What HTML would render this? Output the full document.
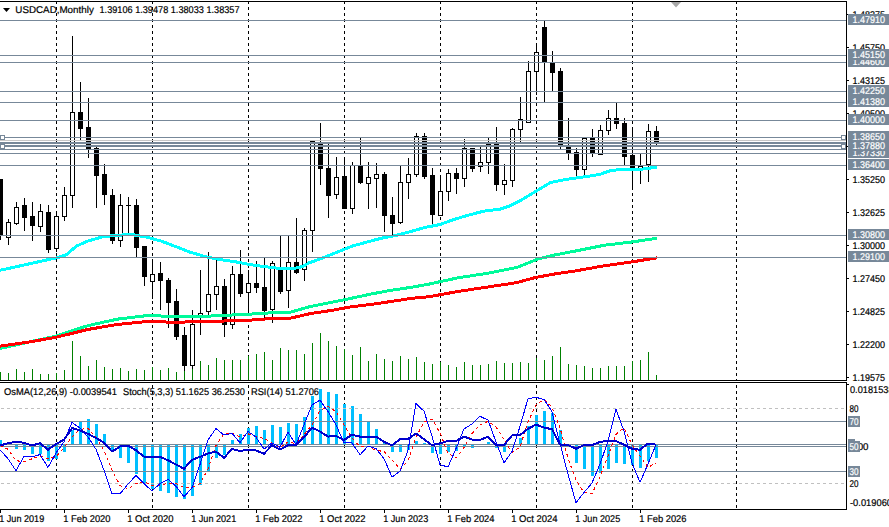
<!DOCTYPE html>
<html><head><meta charset="utf-8">
<style>
html,body{margin:0;padding:0;background:#fff;width:889px;height:527px;overflow:hidden}
svg{position:absolute;left:0;top:0;display:block}
.t{font-family:'Liberation Sans',sans-serif;font-size:9.8px;fill:#000;stroke:#000;stroke-width:0.2px;text-rendering:geometricPrecision}
.w{fill:#fff;stroke:#fff}
</style></head><body>
<svg width="889" height="527" viewBox="0 0 889 527">
<rect width="889" height="527" fill="#fff"/>
<g shape-rendering="crispEdges">
<path d="M56.5 2V4M56.5 7V10M56.5 13V16M56.5 19V22M56.5 25V28M56.5 31V34M56.5 37V40M56.5 43V46M56.5 49V52M56.5 55V58M56.5 61V64M56.5 67V70M56.5 73V76M56.5 79V82M56.5 85V88M56.5 91V94M56.5 97V100M56.5 103V106M56.5 109V112M56.5 115V118M56.5 121V124M56.5 127V130M56.5 133V136M56.5 139V142M56.5 145V148M56.5 151V154M56.5 157V160M56.5 163V166M56.5 169V172M56.5 175V178M56.5 181V184M56.5 187V190M56.5 193V196M56.5 199V202M56.5 205V208M56.5 211V214M56.5 217V220M56.5 223V226M56.5 229V232M56.5 235V238M56.5 241V244M56.5 247V250M56.5 253V256M56.5 259V262M56.5 265V268M56.5 271V274M56.5 277V280M56.5 283V286M56.5 289V292M56.5 295V298M56.5 301V304M56.5 307V310M56.5 313V316M56.5 319V322M56.5 325V328M56.5 331V334M56.5 337V340M56.5 343V346M56.5 349V352M56.5 355V358M56.5 361V364M56.5 367V370M56.5 373V376M56.5 379V380M152.5 2V4M152.5 7V10M152.5 13V16M152.5 19V22M152.5 25V28M152.5 31V34M152.5 37V40M152.5 43V46M152.5 49V52M152.5 55V58M152.5 61V64M152.5 67V70M152.5 73V76M152.5 79V82M152.5 85V88M152.5 91V94M152.5 97V100M152.5 103V106M152.5 109V112M152.5 115V118M152.5 121V124M152.5 127V130M152.5 133V136M152.5 139V142M152.5 145V148M152.5 151V154M152.5 157V160M152.5 163V166M152.5 169V172M152.5 175V178M152.5 181V184M152.5 187V190M152.5 193V196M152.5 199V202M152.5 205V208M152.5 211V214M152.5 217V220M152.5 223V226M152.5 229V232M152.5 235V238M152.5 241V244M152.5 247V250M152.5 253V256M152.5 259V262M152.5 265V268M152.5 271V274M152.5 277V280M152.5 283V286M152.5 289V292M152.5 295V298M152.5 301V304M152.5 307V310M152.5 313V316M152.5 319V322M152.5 325V328M152.5 331V334M152.5 337V340M152.5 343V346M152.5 349V352M152.5 355V358M152.5 361V364M152.5 367V370M152.5 373V376M152.5 379V380M248.5 2V4M248.5 7V10M248.5 13V16M248.5 19V22M248.5 25V28M248.5 31V34M248.5 37V40M248.5 43V46M248.5 49V52M248.5 55V58M248.5 61V64M248.5 67V70M248.5 73V76M248.5 79V82M248.5 85V88M248.5 91V94M248.5 97V100M248.5 103V106M248.5 109V112M248.5 115V118M248.5 121V124M248.5 127V130M248.5 133V136M248.5 139V142M248.5 145V148M248.5 151V154M248.5 157V160M248.5 163V166M248.5 169V172M248.5 175V178M248.5 181V184M248.5 187V190M248.5 193V196M248.5 199V202M248.5 205V208M248.5 211V214M248.5 217V220M248.5 223V226M248.5 229V232M248.5 235V238M248.5 241V244M248.5 247V250M248.5 253V256M248.5 259V262M248.5 265V268M248.5 271V274M248.5 277V280M248.5 283V286M248.5 289V292M248.5 295V298M248.5 301V304M248.5 307V310M248.5 313V316M248.5 319V322M248.5 325V328M248.5 331V334M248.5 337V340M248.5 343V346M248.5 349V352M248.5 355V358M248.5 361V364M248.5 367V370M248.5 373V376M248.5 379V380M344.5 2V4M344.5 7V10M344.5 13V16M344.5 19V22M344.5 25V28M344.5 31V34M344.5 37V40M344.5 43V46M344.5 49V52M344.5 55V58M344.5 61V64M344.5 67V70M344.5 73V76M344.5 79V82M344.5 85V88M344.5 91V94M344.5 97V100M344.5 103V106M344.5 109V112M344.5 115V118M344.5 121V124M344.5 127V130M344.5 133V136M344.5 139V142M344.5 145V148M344.5 151V154M344.5 157V160M344.5 163V166M344.5 169V172M344.5 175V178M344.5 181V184M344.5 187V190M344.5 193V196M344.5 199V202M344.5 205V208M344.5 211V214M344.5 217V220M344.5 223V226M344.5 229V232M344.5 235V238M344.5 241V244M344.5 247V250M344.5 253V256M344.5 259V262M344.5 265V268M344.5 271V274M344.5 277V280M344.5 283V286M344.5 289V292M344.5 295V298M344.5 301V304M344.5 307V310M344.5 313V316M344.5 319V322M344.5 325V328M344.5 331V334M344.5 337V340M344.5 343V346M344.5 349V352M344.5 355V358M344.5 361V364M344.5 367V370M344.5 373V376M344.5 379V380M440.5 2V4M440.5 7V10M440.5 13V16M440.5 19V22M440.5 25V28M440.5 31V34M440.5 37V40M440.5 43V46M440.5 49V52M440.5 55V58M440.5 61V64M440.5 67V70M440.5 73V76M440.5 79V82M440.5 85V88M440.5 91V94M440.5 97V100M440.5 103V106M440.5 109V112M440.5 115V118M440.5 121V124M440.5 127V130M440.5 133V136M440.5 139V142M440.5 145V148M440.5 151V154M440.5 157V160M440.5 163V166M440.5 169V172M440.5 175V178M440.5 181V184M440.5 187V190M440.5 193V196M440.5 199V202M440.5 205V208M440.5 211V214M440.5 217V220M440.5 223V226M440.5 229V232M440.5 235V238M440.5 241V244M440.5 247V250M440.5 253V256M440.5 259V262M440.5 265V268M440.5 271V274M440.5 277V280M440.5 283V286M440.5 289V292M440.5 295V298M440.5 301V304M440.5 307V310M440.5 313V316M440.5 319V322M440.5 325V328M440.5 331V334M440.5 337V340M440.5 343V346M440.5 349V352M440.5 355V358M440.5 361V364M440.5 367V370M440.5 373V376M440.5 379V380M536.5 2V4M536.5 7V10M536.5 13V16M536.5 19V22M536.5 25V28M536.5 31V34M536.5 37V40M536.5 43V46M536.5 49V52M536.5 55V58M536.5 61V64M536.5 67V70M536.5 73V76M536.5 79V82M536.5 85V88M536.5 91V94M536.5 97V100M536.5 103V106M536.5 109V112M536.5 115V118M536.5 121V124M536.5 127V130M536.5 133V136M536.5 139V142M536.5 145V148M536.5 151V154M536.5 157V160M536.5 163V166M536.5 169V172M536.5 175V178M536.5 181V184M536.5 187V190M536.5 193V196M536.5 199V202M536.5 205V208M536.5 211V214M536.5 217V220M536.5 223V226M536.5 229V232M536.5 235V238M536.5 241V244M536.5 247V250M536.5 253V256M536.5 259V262M536.5 265V268M536.5 271V274M536.5 277V280M536.5 283V286M536.5 289V292M536.5 295V298M536.5 301V304M536.5 307V310M536.5 313V316M536.5 319V322M536.5 325V328M536.5 331V334M536.5 337V340M536.5 343V346M536.5 349V352M536.5 355V358M536.5 361V364M536.5 367V370M536.5 373V376M536.5 379V380M632.5 2V4M632.5 7V10M632.5 13V16M632.5 19V22M632.5 25V28M632.5 31V34M632.5 37V40M632.5 43V46M632.5 49V52M632.5 55V58M632.5 61V64M632.5 67V70M632.5 73V76M632.5 79V82M632.5 85V88M632.5 91V94M632.5 97V100M632.5 103V106M632.5 109V112M632.5 115V118M632.5 121V124M632.5 127V130M632.5 133V136M632.5 139V142M632.5 145V148M632.5 151V154M632.5 157V160M632.5 163V166M632.5 169V172M632.5 175V178M632.5 181V184M632.5 187V190M632.5 193V196M632.5 199V202M632.5 205V208M632.5 211V214M632.5 217V220M632.5 223V226M632.5 229V232M632.5 235V238M632.5 241V244M632.5 247V250M632.5 253V256M632.5 259V262M632.5 265V268M632.5 271V274M632.5 277V280M632.5 283V286M632.5 289V292M632.5 295V298M632.5 301V304M632.5 307V310M632.5 313V316M632.5 319V322M632.5 325V328M632.5 331V334M632.5 337V340M632.5 343V346M632.5 349V352M632.5 355V358M632.5 361V364M632.5 367V370M632.5 373V376M632.5 379V380M736.5 2V4M736.5 7V10M736.5 13V16M736.5 19V22M736.5 25V28M736.5 31V34M736.5 37V40M736.5 43V46M736.5 49V52M736.5 55V58M736.5 61V64M736.5 67V70M736.5 73V76M736.5 79V82M736.5 85V88M736.5 91V94M736.5 97V100M736.5 103V106M736.5 109V112M736.5 115V118M736.5 121V124M736.5 127V130M736.5 133V136M736.5 139V142M736.5 145V148M736.5 151V154M736.5 157V160M736.5 163V166M736.5 169V172M736.5 175V178M736.5 181V184M736.5 187V190M736.5 193V196M736.5 199V202M736.5 205V208M736.5 211V214M736.5 217V220M736.5 223V226M736.5 229V232M736.5 235V238M736.5 241V244M736.5 247V250M736.5 253V256M736.5 259V262M736.5 265V268M736.5 271V274M736.5 277V280M736.5 283V286M736.5 289V292M736.5 295V298M736.5 301V304M736.5 307V310M736.5 313V316M736.5 319V322M736.5 325V328M736.5 331V334M736.5 337V340M736.5 343V346M736.5 349V352M736.5 355V358M736.5 361V364M736.5 367V370M736.5 373V376M736.5 379V380M56.5 385V388M56.5 391V394M56.5 397V400M56.5 403V406M56.5 409V412M56.5 415V418M56.5 421V424M56.5 427V430M56.5 433V436M56.5 439V442M56.5 445V448M56.5 451V454M56.5 457V460M56.5 463V466M56.5 469V472M56.5 475V478M56.5 481V484M56.5 487V490M56.5 493V496M56.5 499V502M56.5 505V508M152.5 385V388M152.5 391V394M152.5 397V400M152.5 403V406M152.5 409V412M152.5 415V418M152.5 421V424M152.5 427V430M152.5 433V436M152.5 439V442M152.5 445V448M152.5 451V454M152.5 457V460M152.5 463V466M152.5 469V472M152.5 475V478M152.5 481V484M152.5 487V490M152.5 493V496M152.5 499V502M152.5 505V508M248.5 385V388M248.5 391V394M248.5 397V400M248.5 403V406M248.5 409V412M248.5 415V418M248.5 421V424M248.5 427V430M248.5 433V436M248.5 439V442M248.5 445V448M248.5 451V454M248.5 457V460M248.5 463V466M248.5 469V472M248.5 475V478M248.5 481V484M248.5 487V490M248.5 493V496M248.5 499V502M248.5 505V508M344.5 385V388M344.5 391V394M344.5 397V400M344.5 403V406M344.5 409V412M344.5 415V418M344.5 421V424M344.5 427V430M344.5 433V436M344.5 439V442M344.5 445V448M344.5 451V454M344.5 457V460M344.5 463V466M344.5 469V472M344.5 475V478M344.5 481V484M344.5 487V490M344.5 493V496M344.5 499V502M344.5 505V508M440.5 385V388M440.5 391V394M440.5 397V400M440.5 403V406M440.5 409V412M440.5 415V418M440.5 421V424M440.5 427V430M440.5 433V436M440.5 439V442M440.5 445V448M440.5 451V454M440.5 457V460M440.5 463V466M440.5 469V472M440.5 475V478M440.5 481V484M440.5 487V490M440.5 493V496M440.5 499V502M440.5 505V508M536.5 385V388M536.5 391V394M536.5 397V400M536.5 403V406M536.5 409V412M536.5 415V418M536.5 421V424M536.5 427V430M536.5 433V436M536.5 439V442M536.5 445V448M536.5 451V454M536.5 457V460M536.5 463V466M536.5 469V472M536.5 475V478M536.5 481V484M536.5 487V490M536.5 493V496M536.5 499V502M536.5 505V508M632.5 385V388M632.5 391V394M632.5 397V400M632.5 403V406M632.5 409V412M632.5 415V418M632.5 421V424M632.5 427V430M632.5 433V436M632.5 439V442M632.5 445V448M632.5 451V454M632.5 457V460M632.5 463V466M632.5 469V472M632.5 475V478M632.5 481V484M632.5 487V490M632.5 493V496M632.5 499V502M632.5 505V508M736.5 385V388M736.5 391V394M736.5 397V400M736.5 403V406M736.5 409V412M736.5 415V418M736.5 421V424M736.5 427V430M736.5 433V436M736.5 439V442M736.5 445V448M736.5 451V454M736.5 457V460M736.5 463V466M736.5 469V472M736.5 475V478M736.5 481V484M736.5 487V490M736.5 493V496M736.5 499V502M736.5 505V508" stroke="#000" stroke-width="1" fill="none"/>
</g>
<g shape-rendering="crispEdges">
<path d="M0.5 179V240M8.5 219V245M16.5 202V225M24.5 198V231M32.5 202V241M40.5 204V232M48.5 205V253M56.5 212V252M64.5 187V221M72.5 36V208M80.5 82V141M88.5 98V158M96.5 147V208M104.5 164V205M112.5 189V244M120.5 194V247M128.5 197V235M136.5 199V257M144.5 246V286M152.5 259V299M160.5 262V310M168.5 278V328M176.5 289V340M184.5 327V371M192.5 310V371M200.5 270V335M208.5 252V315M216.5 260V310M224.5 279V337M232.5 266V329M240.5 250V297M248.5 270V314M256.5 261V293M264.5 258V319M272.5 261V323M280.5 236V294M288.5 236V308M296.5 218V274M304.5 228V281M312.5 141V252M320.5 123V185M328.5 143V218M336.5 157V199M344.5 157V209M352.5 162V214M360.5 138V184M368.5 162V209M376.5 163V208M384.5 172V232M392.5 197V236M400.5 166V224M408.5 158V199M416.5 133V177M424.5 133V179M432.5 168V224M440.5 175V216M448.5 169V201M456.5 168V194M464.5 139V187M472.5 148V172M480.5 147V172M488.5 138V174M496.5 127V191M504.5 164V195M512.5 128V187M520.5 97V143M528.5 61V123M536.5 43V95M544.5 21V103M552.5 51V92M560.5 68V150M568.5 118V160M576.5 148V179M584.5 138V177M592.5 129V157M600.5 125V155M608.5 110V135M616.5 103V129M624.5 118V166M632.5 128V187M640.5 154V184M648.5 124V182M656.5 126V146" stroke="#000" stroke-width="1" fill="none"/>
<rect x="-2" y="179" width="5" height="57" fill="#000"/><rect x="6.5" y="222.5" width="4" height="15" fill="#fff" stroke="#000" stroke-width="1"/><rect x="14.5" y="207.5" width="4" height="16" fill="#fff" stroke="#000" stroke-width="1"/><rect x="22" y="205" width="5" height="13" fill="#000"/><rect x="30" y="216" width="5" height="10" fill="#000"/><rect x="38.5" y="211.5" width="4" height="15" fill="#fff" stroke="#000" stroke-width="1"/><rect x="46" y="212" width="5" height="38" fill="#000"/><rect x="54.5" y="216.5" width="4" height="32" fill="#fff" stroke="#000" stroke-width="1"/><rect x="62.5" y="195.5" width="4" height="21" fill="#fff" stroke="#000" stroke-width="1"/><rect x="70.5" y="112.5" width="4" height="83" fill="#fff" stroke="#000" stroke-width="1"/><rect x="78" y="112" width="5" height="17" fill="#000"/><rect x="86" y="127" width="5" height="23" fill="#000"/><rect x="94" y="148" width="5" height="28" fill="#000"/><rect x="102" y="174" width="5" height="21" fill="#000"/><rect x="110" y="195" width="5" height="46" fill="#000"/><rect x="118.5" y="205.5" width="4" height="35" fill="#fff" stroke="#000" stroke-width="1"/><rect x="126" y="205" width="5" height="1" fill="#000"/><rect x="134" y="205" width="5" height="43" fill="#000"/><rect x="142" y="246" width="5" height="31" fill="#000"/><rect x="150.5" y="274.5" width="4" height="7" fill="#fff" stroke="#000" stroke-width="1"/><rect x="158" y="273" width="5" height="8" fill="#000"/><rect x="166" y="280" width="5" height="23" fill="#000"/><rect x="174" y="301" width="5" height="36" fill="#000"/><rect x="182" y="335" width="5" height="31" fill="#000"/><rect x="190.5" y="324.5" width="4" height="41" fill="#fff" stroke="#000" stroke-width="1"/><rect x="198.5" y="313.5" width="4" height="2" fill="#fff" stroke="#000" stroke-width="1"/><rect x="206.5" y="294.5" width="4" height="17" fill="#fff" stroke="#000" stroke-width="1"/><rect x="214.5" y="286.5" width="4" height="8" fill="#fff" stroke="#000" stroke-width="1"/><rect x="222" y="286" width="5" height="39" fill="#000"/><rect x="230.5" y="274.5" width="4" height="50" fill="#fff" stroke="#000" stroke-width="1"/><rect x="238" y="274" width="5" height="20" fill="#000"/><rect x="246.5" y="283.5" width="4" height="9" fill="#fff" stroke="#000" stroke-width="1"/><rect x="254" y="283" width="5" height="5" fill="#000"/><rect x="262" y="287" width="5" height="24" fill="#000"/><rect x="270.5" y="263.5" width="4" height="46" fill="#fff" stroke="#000" stroke-width="1"/><rect x="278" y="268" width="5" height="24" fill="#000"/><rect x="286.5" y="262.5" width="4" height="28" fill="#fff" stroke="#000" stroke-width="1"/><rect x="294" y="262" width="5" height="11" fill="#000"/><rect x="302.5" y="230.5" width="4" height="39" fill="#fff" stroke="#000" stroke-width="1"/><rect x="310.5" y="141.5" width="4" height="89" fill="#fff" stroke="#000" stroke-width="1"/><rect x="318" y="143" width="5" height="26" fill="#000"/><rect x="326" y="168" width="5" height="28" fill="#000"/><rect x="334.5" y="177.5" width="4" height="17" fill="#fff" stroke="#000" stroke-width="1"/><rect x="342" y="176" width="5" height="33" fill="#000"/><rect x="350.5" y="165.5" width="4" height="43" fill="#fff" stroke="#000" stroke-width="1"/><rect x="358" y="166" width="5" height="17" fill="#000"/><rect x="366.5" y="177.5" width="4" height="6" fill="#fff" stroke="#000" stroke-width="1"/><rect x="374.5" y="174.5" width="4" height="4" fill="#fff" stroke="#000" stroke-width="1"/><rect x="382" y="174" width="5" height="42" fill="#000"/><rect x="390" y="215" width="5" height="9" fill="#000"/><rect x="398.5" y="182.5" width="4" height="40" fill="#fff" stroke="#000" stroke-width="1"/><rect x="406.5" y="174.5" width="4" height="8" fill="#fff" stroke="#000" stroke-width="1"/><rect x="414.5" y="136.5" width="4" height="38" fill="#fff" stroke="#000" stroke-width="1"/><rect x="422" y="136" width="5" height="41" fill="#000"/><rect x="430" y="175" width="5" height="40" fill="#000"/><rect x="438.5" y="191.5" width="4" height="24" fill="#fff" stroke="#000" stroke-width="1"/><rect x="446.5" y="173.5" width="4" height="18" fill="#fff" stroke="#000" stroke-width="1"/><rect x="454" y="173" width="5" height="6" fill="#000"/><rect x="462.5" y="148.5" width="4" height="30" fill="#fff" stroke="#000" stroke-width="1"/><rect x="470" y="148" width="5" height="21" fill="#000"/><rect x="478.5" y="162.5" width="4" height="4" fill="#fff" stroke="#000" stroke-width="1"/><rect x="486.5" y="144.5" width="4" height="18" fill="#fff" stroke="#000" stroke-width="1"/><rect x="494" y="144" width="5" height="41" fill="#000"/><rect x="502.5" y="180.5" width="4" height="4" fill="#fff" stroke="#000" stroke-width="1"/><rect x="510.5" y="129.5" width="4" height="51" fill="#fff" stroke="#000" stroke-width="1"/><rect x="518.5" y="119.5" width="4" height="10" fill="#fff" stroke="#000" stroke-width="1"/><rect x="526.5" y="71.5" width="4" height="51" fill="#fff" stroke="#000" stroke-width="1"/><rect x="534.5" y="52.5" width="4" height="19" fill="#fff" stroke="#000" stroke-width="1"/><rect x="542" y="27" width="5" height="36" fill="#000"/><rect x="550" y="63" width="5" height="10" fill="#000"/><rect x="558" y="71" width="5" height="74" fill="#000"/><rect x="566" y="147" width="5" height="7" fill="#000"/><rect x="574" y="152" width="5" height="18" fill="#000"/><rect x="582.5" y="138.5" width="4" height="31" fill="#fff" stroke="#000" stroke-width="1"/><rect x="590" y="138" width="5" height="16" fill="#000"/><rect x="598.5" y="130.5" width="4" height="24" fill="#fff" stroke="#000" stroke-width="1"/><rect x="606.5" y="118.5" width="4" height="12" fill="#fff" stroke="#000" stroke-width="1"/><rect x="614" y="118" width="5" height="6" fill="#000"/><rect x="622" y="123" width="5" height="34" fill="#000"/><rect x="630" y="155" width="5" height="14" fill="#000"/><rect x="638.5" y="166.5" width="4" height="3" fill="#fff" stroke="#000" stroke-width="1"/><rect x="646.5" y="131.5" width="4" height="33" fill="#fff" stroke="#000" stroke-width="1"/><rect x="654" y="131" width="5" height="11" fill="#000"/>
</g>
<polyline points="0,270.3 29,263.9 58.5,257.4 67,254.5 76,246.3 88,241 102,237 117,235.2 132,234.6 146,237 161,241 175,246.3 190,252.2 205,256.5 219,259.5 234,261.5 250,264.6 264.6,266.6 279.2,268.4 293.9,268.4 302.6,266.6 308.5,263.1 323.1,257.8 337.7,252 352.3,246.1 367,242 381.6,238.2 396.2,235.3 410.8,231.5 425.4,227.4 440,224.5 454.7,219.2 469.3,214.9 484,211.1 500.1,209.1 510.2,205.7 520.4,200.6 530.5,194.5 540.6,188.5 550.7,182.4 560.9,180.4 571,178.7 581.1,177.3 591.2,175.9 601.3,173.9 611.5,170.2 621.6,169.8 631.7,169.8 641.8,169.2 652,167.8 657,167.2" fill="none" stroke="#00ffff" stroke-width="3" stroke-linejoin="round" shape-rendering="crispEdges"/>
<polyline points="0,348.5 29,342 55.6,336.2 87.7,325.7 117,319.2 146,315.7 175.4,316.3 204.7,316.3 234,314.9 250,314.1 270.2,312.9 290.5,312.1 310.7,306.4 331,302.4 351.2,298.3 371.5,293.9 391.7,290.2 412,287.2 429,284.1 458.5,277.7 487.7,273.3 517,267.4 537.4,259.2 555,254.9 575.4,251 604.7,245.2 634,241.7 657,238.2" fill="none" stroke="#00fa9a" stroke-width="3" stroke-linejoin="round" shape-rendering="crispEdges"/>
<polyline points="0,346.1 29,342 55.6,337.4 87.7,329.5 117,324.5 146,321.6 175.4,322.2 204.7,321.6 234,320.7 250,320.2 270.2,318.6 290.5,318.2 310.7,313.5 331,310.5 351.2,306.8 371.5,304.4 391.7,301.4 412,298.3 429,296.7 458.5,291.4 487.7,287 517,282.6 534.5,277.7 555,273.9 575.4,270.9 604.7,265.7 634,261.6 657,257.8" fill="none" stroke="#ff0000" stroke-width="3" stroke-linejoin="round" shape-rendering="crispEdges"/>
<g shape-rendering="crispEdges">
<path d="M0.5 372V380M8.5 373V380M16.5 369V380M24.5 372V380M32.5 369V380M40.5 374V380M48.5 374V380M56.5 373V380M64.5 370V380M72.5 341V380M80.5 356V380M88.5 366V380M96.5 360V380M104.5 367V380M112.5 369V380M120.5 368V380M128.5 371V380M136.5 369V380M144.5 370V380M152.5 367V380M160.5 370V380M168.5 368V380M176.5 372V380M184.5 371V380M192.5 369V380M200.5 361V380M208.5 365V380M216.5 358V380M224.5 360V380M232.5 360V380M240.5 360V380M248.5 356V380M256.5 354V380M264.5 352V380M272.5 360V380M280.5 348V380M288.5 350V380M296.5 350V380M304.5 354V380M312.5 343V380M320.5 333V380M328.5 341V380M336.5 346V380M344.5 349V380M352.5 355V380M360.5 347V380M368.5 361V380M376.5 354V380M384.5 359V380M392.5 361V380M400.5 356V380M408.5 359V380M416.5 357V380M424.5 362V380M432.5 364V380M440.5 362V380M448.5 365V380M456.5 367V380M464.5 362V380M472.5 365V380M480.5 365V380M488.5 364V380M496.5 361V380M504.5 363V380M512.5 363V380M520.5 362V380M528.5 363V380M536.5 358V380M544.5 360V380M552.5 356V380M560.5 347V380M568.5 364V380M576.5 365V380M584.5 366V380M592.5 368V380M600.5 368V380M608.5 366V380M616.5 366V380M624.5 366V380M632.5 361V380M640.5 360V380M648.5 352V380M656.5 375V380" stroke="#008000" stroke-width="1" fill="none"/>
</g>
<g shape-rendering="crispEdges">
<path d="M0 20.5H846M0 55.5H846M0 62.5H846M0 91.5H846M0 102.5H846M0 120.5H846M0 137.5H846M0 142.5H846M0 143.5H846M0 145.5H846M0 146.5H846M0 149.5H846M0 153.5H846M0 165.5H846M0 235.5H846M0 257.5H846" stroke="#778899" stroke-width="1" fill="none"/>
<path d="M0 140.5H846" stroke="#c8c8c8" stroke-width="1" fill="none"/>
</g>
<g shape-rendering="crispEdges">
<rect x="0.5" y="135.5" width="4" height="4" fill="#fff" stroke="#778899" stroke-width="1"/>
<rect x="841.5" y="135.5" width="4" height="4" fill="#fff" stroke="#778899" stroke-width="1"/>
<rect x="0.5" y="144.5" width="4" height="4" fill="#fff" stroke="#778899" stroke-width="1"/>
<rect x="841.5" y="144.5" width="4" height="4" fill="#fff" stroke="#778899" stroke-width="1"/>
</g>
<path d="M671 2H681L676 7.5Z" fill="#a8a8a8"/>
<g shape-rendering="crispEdges" stroke="#000" stroke-width="1" fill="none">
<path d="M0 1.5H846.5V380.5H0"/>
<path d="M0 382.5H846.5V509.5H0"/>
</g>
<g shape-rendering="crispEdges">
<rect x="-1" y="440" width="3" height="5" fill="#00bfff"/><rect x="15" y="445" width="3" height="4" fill="#00bfff"/><rect x="23" y="445" width="3" height="5" fill="#00bfff"/><rect x="31" y="445" width="3" height="9" fill="#00bfff"/><rect x="39" y="445" width="3" height="9" fill="#00bfff"/><rect x="47" y="445" width="3" height="16" fill="#00bfff"/><rect x="55" y="445" width="3" height="14" fill="#00bfff"/><rect x="63" y="445" width="3" height="7" fill="#00bfff"/><rect x="71" y="430" width="3" height="15" fill="#00bfff"/><rect x="79" y="422" width="3" height="23" fill="#00bfff"/><rect x="87" y="419" width="3" height="26" fill="#00bfff"/><rect x="95" y="424" width="3" height="21" fill="#00bfff"/><rect x="103" y="434" width="3" height="11" fill="#00bfff"/><rect x="111" y="445" width="3" height="6" fill="#00bfff"/><rect x="119" y="445" width="3" height="13" fill="#00bfff"/><rect x="127" y="445" width="3" height="18" fill="#00bfff"/><rect x="135" y="445" width="3" height="29" fill="#00bfff"/><rect x="143" y="445" width="3" height="39" fill="#00bfff"/><rect x="151" y="445" width="3" height="44" fill="#00bfff"/><rect x="159" y="445" width="3" height="46" fill="#00bfff"/><rect x="167" y="445" width="3" height="48" fill="#00bfff"/><rect x="175" y="445" width="3" height="52" fill="#00bfff"/><rect x="183" y="445" width="3" height="54" fill="#00bfff"/><rect x="191" y="445" width="3" height="51" fill="#00bfff"/><rect x="199" y="445" width="3" height="40" fill="#00bfff"/><rect x="207" y="445" width="3" height="26" fill="#00bfff"/><rect x="215" y="445" width="3" height="13" fill="#00bfff"/><rect x="223" y="445" width="3" height="10" fill="#00bfff"/><rect x="231" y="440" width="3" height="5" fill="#00bfff"/><rect x="239" y="434" width="3" height="11" fill="#00bfff"/><rect x="247" y="428" width="3" height="17" fill="#00bfff"/><rect x="255" y="426" width="3" height="19" fill="#00bfff"/><rect x="263" y="430" width="3" height="15" fill="#00bfff"/><rect x="271" y="425" width="3" height="20" fill="#00bfff"/><rect x="279" y="427" width="3" height="18" fill="#00bfff"/><rect x="287" y="423" width="3" height="22" fill="#00bfff"/><rect x="295" y="424" width="3" height="21" fill="#00bfff"/><rect x="303" y="417" width="3" height="28" fill="#00bfff"/><rect x="311" y="396" width="3" height="49" fill="#00bfff"/><rect x="319" y="389" width="3" height="56" fill="#00bfff"/><rect x="327" y="392" width="3" height="53" fill="#00bfff"/><rect x="335" y="394" width="3" height="51" fill="#00bfff"/><rect x="343" y="404" width="3" height="41" fill="#00bfff"/><rect x="351" y="406" width="3" height="39" fill="#00bfff"/><rect x="359" y="414" width="3" height="31" fill="#00bfff"/><rect x="367" y="421" width="3" height="24" fill="#00bfff"/><rect x="375" y="429" width="3" height="16" fill="#00bfff"/><rect x="383" y="441" width="3" height="4" fill="#00bfff"/><rect x="391" y="445" width="3" height="7" fill="#00bfff"/><rect x="399" y="445" width="3" height="7" fill="#00bfff"/><rect x="407" y="445" width="3" height="5" fill="#00bfff"/><rect x="415" y="441" width="3" height="4" fill="#00bfff"/><rect x="423" y="443" width="3" height="2" fill="#00bfff"/><rect x="431" y="445" width="3" height="8" fill="#00bfff"/><rect x="439" y="445" width="3" height="9" fill="#00bfff"/><rect x="447" y="445" width="3" height="7" fill="#00bfff"/><rect x="455" y="445" width="3" height="6" fill="#00bfff"/><rect x="463" y="445" width="3" height="1" fill="#00bfff"/><rect x="471" y="445" width="3" height="3" fill="#00bfff"/><rect x="487" y="442" width="3" height="3" fill="#00bfff"/><rect x="495" y="445" width="3" height="3" fill="#00bfff"/><rect x="503" y="445" width="3" height="7" fill="#00bfff"/><rect x="519" y="438" width="3" height="7" fill="#00bfff"/><rect x="527" y="426" width="3" height="19" fill="#00bfff"/><rect x="535" y="415" width="3" height="30" fill="#00bfff"/><rect x="543" y="411" width="3" height="34" fill="#00bfff"/><rect x="551" y="413" width="3" height="32" fill="#00bfff"/><rect x="559" y="430" width="3" height="15" fill="#00bfff"/><rect x="575" y="445" width="3" height="18" fill="#00bfff"/><rect x="583" y="445" width="3" height="24" fill="#00bfff"/><rect x="591" y="445" width="3" height="31" fill="#00bfff"/><rect x="599" y="445" width="3" height="28" fill="#00bfff"/><rect x="607" y="445" width="3" height="24" fill="#00bfff"/><rect x="615" y="445" width="3" height="18" fill="#00bfff"/><rect x="623" y="445" width="3" height="19" fill="#00bfff"/><rect x="631" y="445" width="3" height="20" fill="#00bfff"/><rect x="639" y="445" width="3" height="23" fill="#00bfff"/><rect x="647" y="445" width="3" height="16" fill="#00bfff"/><rect x="655" y="445" width="3" height="13" fill="#00bfff"/>
<path d="M1 408.5H4M7 408.5H10M13 408.5H16M19 408.5H22M25 408.5H28M31 408.5H34M37 408.5H40M43 408.5H46M49 408.5H52M55 408.5H58M61 408.5H64M67 408.5H70M73 408.5H76M79 408.5H82M85 408.5H88M91 408.5H94M97 408.5H100M103 408.5H106M109 408.5H112M115 408.5H118M121 408.5H124M127 408.5H130M133 408.5H136M139 408.5H142M145 408.5H148M151 408.5H154M157 408.5H160M163 408.5H166M169 408.5H172M175 408.5H178M181 408.5H184M187 408.5H190M193 408.5H196M199 408.5H202M205 408.5H208M211 408.5H214M217 408.5H220M223 408.5H226M229 408.5H232M235 408.5H238M241 408.5H244M247 408.5H250M253 408.5H256M259 408.5H262M265 408.5H268M271 408.5H274M277 408.5H280M283 408.5H286M289 408.5H292M295 408.5H298M301 408.5H304M307 408.5H310M313 408.5H316M319 408.5H322M325 408.5H328M331 408.5H334M337 408.5H340M343 408.5H346M349 408.5H352M355 408.5H358M361 408.5H364M367 408.5H370M373 408.5H376M379 408.5H382M385 408.5H388M391 408.5H394M397 408.5H400M403 408.5H406M409 408.5H412M415 408.5H418M421 408.5H424M427 408.5H430M433 408.5H436M439 408.5H442M445 408.5H448M451 408.5H454M457 408.5H460M463 408.5H466M469 408.5H472M475 408.5H478M481 408.5H484M487 408.5H490M493 408.5H496M499 408.5H502M505 408.5H508M511 408.5H514M517 408.5H520M523 408.5H526M529 408.5H532M535 408.5H538M541 408.5H544M547 408.5H550M553 408.5H556M559 408.5H562M565 408.5H568M571 408.5H574M577 408.5H580M583 408.5H586M589 408.5H592M595 408.5H598M601 408.5H604M607 408.5H610M613 408.5H616M619 408.5H622M625 408.5H628M631 408.5H634M637 408.5H640M643 408.5H646M649 408.5H652M655 408.5H658M661 408.5H664M667 408.5H670M673 408.5H676M679 408.5H682M685 408.5H688M691 408.5H694M697 408.5H700M703 408.5H706M709 408.5H712M715 408.5H718M721 408.5H724M727 408.5H730M733 408.5H736M739 408.5H742M745 408.5H748M751 408.5H754M757 408.5H760M763 408.5H766M769 408.5H772M775 408.5H778M781 408.5H784M787 408.5H790M793 408.5H796M799 408.5H802M805 408.5H808M811 408.5H814M817 408.5H820M823 408.5H826M829 408.5H832M835 408.5H838M841 408.5H844M1 483.5H4M7 483.5H10M13 483.5H16M19 483.5H22M25 483.5H28M31 483.5H34M37 483.5H40M43 483.5H46M49 483.5H52M55 483.5H58M61 483.5H64M67 483.5H70M73 483.5H76M79 483.5H82M85 483.5H88M91 483.5H94M97 483.5H100M103 483.5H106M109 483.5H112M115 483.5H118M121 483.5H124M127 483.5H130M133 483.5H136M139 483.5H142M145 483.5H148M151 483.5H154M157 483.5H160M163 483.5H166M169 483.5H172M175 483.5H178M181 483.5H184M187 483.5H190M193 483.5H196M199 483.5H202M205 483.5H208M211 483.5H214M217 483.5H220M223 483.5H226M229 483.5H232M235 483.5H238M241 483.5H244M247 483.5H250M253 483.5H256M259 483.5H262M265 483.5H268M271 483.5H274M277 483.5H280M283 483.5H286M289 483.5H292M295 483.5H298M301 483.5H304M307 483.5H310M313 483.5H316M319 483.5H322M325 483.5H328M331 483.5H334M337 483.5H340M343 483.5H346M349 483.5H352M355 483.5H358M361 483.5H364M367 483.5H370M373 483.5H376M379 483.5H382M385 483.5H388M391 483.5H394M397 483.5H400M403 483.5H406M409 483.5H412M415 483.5H418M421 483.5H424M427 483.5H430M433 483.5H436M439 483.5H442M445 483.5H448M451 483.5H454M457 483.5H460M463 483.5H466M469 483.5H472M475 483.5H478M481 483.5H484M487 483.5H490M493 483.5H496M499 483.5H502M505 483.5H508M511 483.5H514M517 483.5H520M523 483.5H526M529 483.5H532M535 483.5H538M541 483.5H544M547 483.5H550M553 483.5H556M559 483.5H562M565 483.5H568M571 483.5H574M577 483.5H580M583 483.5H586M589 483.5H592M595 483.5H598M601 483.5H604M607 483.5H610M613 483.5H616M619 483.5H622M625 483.5H628M631 483.5H634M637 483.5H640M643 483.5H646M649 483.5H652M655 483.5H658M661 483.5H664M667 483.5H670M673 483.5H676M679 483.5H682M685 483.5H688M691 483.5H694M697 483.5H700M703 483.5H706M709 483.5H712M715 483.5H718M721 483.5H724M727 483.5H730M733 483.5H736M739 483.5H742M745 483.5H748M751 483.5H754M757 483.5H760M763 483.5H766M769 483.5H772M775 483.5H778M781 483.5H784M787 483.5H790M793 483.5H796M799 483.5H802M805 483.5H808M811 483.5H814M817 483.5H820M823 483.5H826M829 483.5H832M835 483.5H838M841 483.5H844" stroke="#c0c0c0" stroke-width="1" fill="none"/>
<path d="M0 421.5H846M0 444.5H846M0 446.5H846M0 471.5H846" stroke="#778899" stroke-width="1" fill="none"/>
</g>
<polyline points="0,445.5 8,449.3 16,460.7 24,461.7 32,458.8 40,456 48,458.8 56,456.9 64,447.4 72,437 80,429.4 88,428.5 96,437 104,450.3 112,470.2 120,485.4 128,489 136,483.5 144,481.6 152,485.4 160,485 168,483.5 176,483.5 184,487.7 192,487.3 200,483.5 208,469.3 216,445.5 224,433.8 232,433.2 240,437 248,433.8 256,436.6 264,438.5 272,442.9 280,447.6 288,441.9 296,443.8 304,434.7 312,424.8 320,410.6 328,406.3 336,411.6 344,424.8 352,438.1 360,446.7 368,446.7 376,450.5 384,451.4 392,460 400,468.9 408,460.9 416,437.2 424,422 432,419.2 440,432.8 448,453.3 456,458.1 464,447.6 472,433.4 480,424.8 488,421.4 496,426.7 504,440 512,452.6 520,446.9 528,421.9 536,404.8 544,399.6 552,407.1 560,427.6 568,458.3 576,479.9 584,492.5 592,493.7 600,476.6 608,456 616,434.4 624,427.6 632,444.7 640,456 648,467.5 656,462.9" fill="none" stroke="#ff0000" stroke-width="1" stroke-dasharray="3 3" shape-rendering="crispEdges"/>
<polyline points="0,449.7 8,458.8 16,470.6 24,456.5 32,456.9 40,454.6 48,467.4 56,453.1 64,441.7 72,422.4 80,428.1 88,437 96,449.3 104,470.2 112,493.9 120,493.9 128,484 136,475.5 144,483.5 152,491.1 160,483.5 168,479.3 176,486.3 184,496.8 192,487.7 200,464.5 208,439.8 216,428.5 224,435.1 232,433.2 240,442.7 248,431.3 256,437.2 264,449.1 272,442.9 280,447.2 288,432.1 296,444.8 304,424.8 312,404.9 320,400.2 328,411.6 336,424.8 344,442.9 352,442.9 360,454.8 368,446.1 376,448.6 384,458.6 392,477 400,471.3 408,450.5 416,403.6 424,411.2 432,436.2 440,464.7 448,467 456,448.6 464,429 472,423.9 480,416.3 488,420.1 496,441.9 504,462.8 512,451.5 520,426.4 528,398.7 536,397.3 544,399.6 552,411.6 560,443.5 568,474.2 576,502.7 584,492.5 592,483 600,464 608,441.3 616,409.4 624,431 632,462.9 640,482.3 648,464 656,444.7" fill="none" stroke="#0000ff" stroke-width="1" shape-rendering="crispEdges"/>
<polyline points="0,445.5 8,443.3 16,441.7 24,442.7 32,445.5 40,443.3 48,449.7 56,444 64,439.8 72,428.1 80,430.4 88,433.8 96,438 104,442.7 112,451.6 120,446.5 128,445.5 136,450.3 144,456.5 152,456.5 160,456.9 168,460.3 176,464.5 184,468.7 192,459.8 200,456.9 208,453.5 216,451.6 224,457.9 232,449 240,450.9 248,449.7 256,450.5 264,453.7 272,445.3 280,449.5 288,445.3 296,445.3 304,437.2 312,427.7 320,431.5 328,436.6 336,435.9 344,440 352,434.7 360,436.6 368,436.6 376,436.6 384,441.9 392,445.3 400,439.1 408,439.1 416,433.4 424,439.1 432,445.3 440,443.4 448,441 456,441 464,436.6 472,439.6 480,440 488,436.6 496,444.8 504,445 512,435.5 520,435.1 528,428.7 536,424.6 544,427.6 552,429.2 560,444.6 568,445.1 576,448.7 584,445.1 592,445.1 600,442 608,440.6 616,441 624,444.7 632,448.8 640,449.7 648,443.5 656,444.7" fill="none" stroke="#0000cd" stroke-width="2" shape-rendering="crispEdges" stroke-linejoin="round"/>
<path d="M846 14.5H849M846 47.5H849M846 80.5H849M846 113.5H849M846 146.5H849M846 179.5H849M846 212.5H849M846 245.5H849M846 278.5H849M846 311.5H849M846 344.5H849M846 377.5H849" stroke="#000" stroke-width="1" shape-rendering="crispEdges"/><text x="852.5" y="18" class="t" textLength="32.5" lengthAdjust="spacingAndGlyphs">1.48375</text><text x="852.5" y="51" class="t" textLength="32.5" lengthAdjust="spacingAndGlyphs">1.45750</text><text x="852.5" y="84" class="t" textLength="32.5" lengthAdjust="spacingAndGlyphs">1.43125</text><text x="852.5" y="117" class="t" textLength="32.5" lengthAdjust="spacingAndGlyphs">1.40500</text><text x="852.5" y="150" class="t" textLength="32.5" lengthAdjust="spacingAndGlyphs">1.37875</text><text x="852.5" y="183" class="t" textLength="32.5" lengthAdjust="spacingAndGlyphs">1.35250</text><text x="852.5" y="216" class="t" textLength="32.5" lengthAdjust="spacingAndGlyphs">1.32625</text><text x="852.5" y="249" class="t" textLength="32.5" lengthAdjust="spacingAndGlyphs">1.30000</text><text x="852.5" y="282" class="t" textLength="32.5" lengthAdjust="spacingAndGlyphs">1.27450</text><text x="852.5" y="315" class="t" textLength="32.5" lengthAdjust="spacingAndGlyphs">1.24825</text><text x="852.5" y="348" class="t" textLength="32.5" lengthAdjust="spacingAndGlyphs">1.22200</text><text x="852.5" y="381" class="t" textLength="32.5" lengthAdjust="spacingAndGlyphs">1.19575</text><rect x="848" y="251" width="41" height="11" fill="#778899" shape-rendering="crispEdges"/><text x="852.5" y="260" class="t w" textLength="32.5" lengthAdjust="spacingAndGlyphs">1.29100</text><rect x="848" y="229" width="41" height="11" fill="#778899" shape-rendering="crispEdges"/><text x="852.5" y="238" class="t w" textLength="32.5" lengthAdjust="spacingAndGlyphs">1.30800</text><rect x="848" y="159" width="41" height="11" fill="#778899" shape-rendering="crispEdges"/><text x="852.5" y="168" class="t w" textLength="32.5" lengthAdjust="spacingAndGlyphs">1.36400</text><rect x="848" y="147" width="41" height="11" fill="#778899" shape-rendering="crispEdges"/><text x="852.5" y="156" class="t w" textLength="32.5" lengthAdjust="spacingAndGlyphs">1.37330</text><rect x="848" y="140" width="41" height="11" fill="#778899" shape-rendering="crispEdges"/><text x="852.5" y="149" class="t w" textLength="32.5" lengthAdjust="spacingAndGlyphs">1.37880</text><rect x="848" y="131" width="41" height="11" fill="#778899" shape-rendering="crispEdges"/><text x="852.5" y="140" class="t w" textLength="32.5" lengthAdjust="spacingAndGlyphs">1.38650</text><rect x="848" y="114" width="41" height="11" fill="#778899" shape-rendering="crispEdges"/><text x="852.5" y="123" class="t w" textLength="32.5" lengthAdjust="spacingAndGlyphs">1.40000</text><rect x="848" y="96" width="41" height="11" fill="#778899" shape-rendering="crispEdges"/><text x="852.5" y="105" class="t w" textLength="32.5" lengthAdjust="spacingAndGlyphs">1.41380</text><rect x="848" y="85" width="41" height="11" fill="#778899" shape-rendering="crispEdges"/><text x="852.5" y="94" class="t w" textLength="32.5" lengthAdjust="spacingAndGlyphs">1.42250</text><rect x="848" y="56" width="41" height="11" fill="#778899" shape-rendering="crispEdges"/><text x="852.5" y="65" class="t w" textLength="32.5" lengthAdjust="spacingAndGlyphs">1.44600</text><rect x="848" y="49" width="41" height="11" fill="#778899" shape-rendering="crispEdges"/><text x="852.5" y="58" class="t w" textLength="32.5" lengthAdjust="spacingAndGlyphs">1.45150</text><rect x="848" y="14" width="41" height="11" fill="#778899" shape-rendering="crispEdges"/><text x="852.5" y="23" class="t w" textLength="32.5" lengthAdjust="spacingAndGlyphs">1.47910</text><path d="M846 384.5H849" stroke="#000" stroke-width="1" shape-rendering="crispEdges"/><text x="850" y="393" class="t" textLength="43.5" lengthAdjust="spacingAndGlyphs">0.0181538</text><text x="849.5" y="412" class="t" textLength="9" lengthAdjust="spacingAndGlyphs">80</text><text x="849.5" y="450" class="t" textLength="19" lengthAdjust="spacingAndGlyphs">0.00</text><rect x="848" y="439" width="7" height="3" fill="#778899" shape-rendering="crispEdges"/><text x="849.5" y="487" class="t" textLength="9" lengthAdjust="spacingAndGlyphs">20</text><text x="850" y="506" class="t" textLength="42" lengthAdjust="spacingAndGlyphs">-0.019060</text><rect x="848" y="416" width="12" height="11" fill="#778899" shape-rendering="crispEdges"/><text x="849.5" y="425" class="t w" textLength="9" lengthAdjust="spacingAndGlyphs">70</text><rect x="848" y="441" width="12" height="11" fill="#778899" shape-rendering="crispEdges"/><text x="849.5" y="450" class="t w" textLength="9" lengthAdjust="spacingAndGlyphs">50</text><rect x="848" y="466" width="12" height="11" fill="#778899" shape-rendering="crispEdges"/><text x="849.5" y="475" class="t w" textLength="9" lengthAdjust="spacingAndGlyphs">30</text><path d="M0.5 510V513M64.5 510V513M128.5 510V513M192.5 510V513M256.5 510V513M320.5 510V513M384.5 510V513M448.5 510V513M512.5 510V513M576.5 510V513M640.5 510V513" stroke="#000" stroke-width="1" shape-rendering="crispEdges"/><text x="-0.8" y="522" class="t" textLength="45" lengthAdjust="spacingAndGlyphs">1 Jun 2019</text><text x="63.2" y="522" class="t" textLength="47.3" lengthAdjust="spacingAndGlyphs">1 Feb 2020</text><text x="127.2" y="522" class="t" textLength="46.3" lengthAdjust="spacingAndGlyphs">1 Oct 2020</text><text x="191.2" y="522" class="t" textLength="45" lengthAdjust="spacingAndGlyphs">1 Jun 2021</text><text x="255.2" y="522" class="t" textLength="47.3" lengthAdjust="spacingAndGlyphs">1 Feb 2022</text><text x="319.2" y="522" class="t" textLength="46.3" lengthAdjust="spacingAndGlyphs">1 Oct 2022</text><text x="383.2" y="522" class="t" textLength="45" lengthAdjust="spacingAndGlyphs">1 Jun 2023</text><text x="447.2" y="522" class="t" textLength="47.3" lengthAdjust="spacingAndGlyphs">1 Feb 2024</text><text x="511.2" y="522" class="t" textLength="46.3" lengthAdjust="spacingAndGlyphs">1 Oct 2024</text><text x="575.2" y="522" class="t" textLength="45" lengthAdjust="spacingAndGlyphs">1 Jun 2025</text><text x="639.2" y="522" class="t" textLength="47.3" lengthAdjust="spacingAndGlyphs">1 Feb 2026</text><path d="M3 8H10L6.5 12Z" fill="#000"/><text x="15.3" y="13" class="t" textLength="78.5" lengthAdjust="spacingAndGlyphs">USDCAD,Monthly</text><text x="99.5" y="13" class="t" textLength="140" lengthAdjust="spacingAndGlyphs">1.39106 1.39478 1.38033 1.38357</text><text x="4" y="395" class="t" textLength="113" lengthAdjust="spacingAndGlyphs">OsMA(12,26,9) -0.0039541</text><text x="123" y="395" class="t" textLength="122" lengthAdjust="spacingAndGlyphs">Stoch(5,3,3) 51.1625 36.2530</text><text x="251" y="395" class="t" textLength="68" lengthAdjust="spacingAndGlyphs">RSI(14) 51.2706</text>
</svg>
</body></html>
